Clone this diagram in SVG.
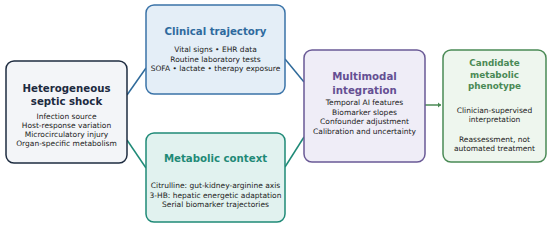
<svg xmlns="http://www.w3.org/2000/svg" width="550" height="227" viewBox="0 0 550 227">
<style>
text{font-family:"DejaVu Sans",sans-serif;text-anchor:middle}
.t{font-size:10.2px;font-weight:bold}
.t5{font-size:8.8px;font-weight:bold}
.b{font-size:7.5px;fill:#222222}
.box{stroke-width:1.5}
.c{fill:none;stroke-width:1.5}
</style>
<defs>
<marker id="ah" markerWidth="4" markerHeight="6" refX="3" refY="3" orient="auto" markerUnits="userSpaceOnUse">
<path d="M0,0.5 L3,3 L0,5.5 Z" fill="#4a8a55"/>
</marker>
</defs>
<rect width="550" height="227" fill="#ffffff"/>
<g id="connectors">
<line class="c" x1="127" y1="95" x2="146" y2="68" stroke="#2f6a9a"/>
<line class="c" x1="127" y1="140" x2="146" y2="168" stroke="#1f8a77"/>
<line class="c" x1="285" y1="59" x2="304" y2="82" stroke="#2f6a9a"/>
<line class="c" x1="285" y1="167" x2="304" y2="137" stroke="#1f8a77"/>
<line class="c" x1="425" y1="105" x2="441" y2="105" stroke="#4a8a55" marker-end="url(#ah)"/>
</g>
<g id="node-septic">
<rect class="box" x="6" y="61" width="121" height="102" rx="8" fill="#f3f5f8" stroke="#1e2c40"/>
<text class="t" x="66.5" y="92" fill="#1c2a40">Heterogeneous</text>
<text class="t" x="66.5" y="104.5" fill="#1c2a40">septic shock</text>
<text class="b" x="66.5" y="119">Infection source</text>
<text class="b" x="66.5" y="128">Host-response variation</text>
<text class="b" x="66.5" y="137">Microcirculatory injury</text>
<text class="b" x="66.5" y="146">Organ-specific metabolism</text>
</g>
<g id="node-clinical">
<rect class="box" x="146" y="5" width="139" height="89" rx="8" fill="#e4eef7" stroke="#3a73a8"/>
<text class="t" x="215.5" y="34.5" fill="#2e6a9e">Clinical trajectory</text>
<text class="b" x="215.5" y="52">Vital signs • EHR data</text>
<text class="b" x="215.5" y="61.5">Routine laboratory tests</text>
<text class="b" x="215.5" y="71">SOFA • lactate • therapy exposure</text>
</g>
<g id="node-metabolic">
<rect class="box" x="146" y="133" width="139" height="89" rx="8" fill="#e1f2ef" stroke="#1f8a77"/>
<text class="t" x="215.5" y="162" fill="#1f8a77">Metabolic context</text>
<text class="b" x="215.5" y="188">Citrulline: gut-kidney-arginine axis</text>
<text class="b" x="215.5" y="197.5">3-HB: hepatic energetic adaptation</text>
<text class="b" x="215.5" y="207">Serial biomarker trajectories</text>
</g>
<g id="node-multimodal">
<rect class="box" x="304" y="50" width="121" height="112" rx="8" fill="#efedf7" stroke="#6a5a96"/>
<text class="t" x="364.5" y="80" fill="#654f93">Multimodal</text>
<text class="t" x="364.5" y="93.5" fill="#654f93">integration</text>
<text class="b" x="364.5" y="105">Temporal AI features</text>
<text class="b" x="364.5" y="114.5">Biomarker slopes</text>
<text class="b" x="364.5" y="124">Confounder adjustment</text>
<text class="b" x="364.5" y="133.5">Calibration and uncertainty</text>
</g>
<g id="node-phenotype">
<rect class="box" x="443" y="50" width="103" height="112" rx="8" fill="#eef6ee" stroke="#4a8a55"/>
<text class="t5" x="494.5" y="66" fill="#4a8a55">Candidate</text>
<text class="t5" x="494.5" y="77.5" fill="#4a8a55">metabolic</text>
<text class="t5" x="494.5" y="88.5" fill="#4a8a55">phenotype</text>
<text class="b" x="494.5" y="113">Clinician-supervised</text>
<text class="b" x="494.5" y="122">interpretation</text>
<text class="b" x="494.5" y="142">Reassessment, not</text>
<text class="b" x="494.5" y="150.5">automated treatment</text>
</g>
</svg>
